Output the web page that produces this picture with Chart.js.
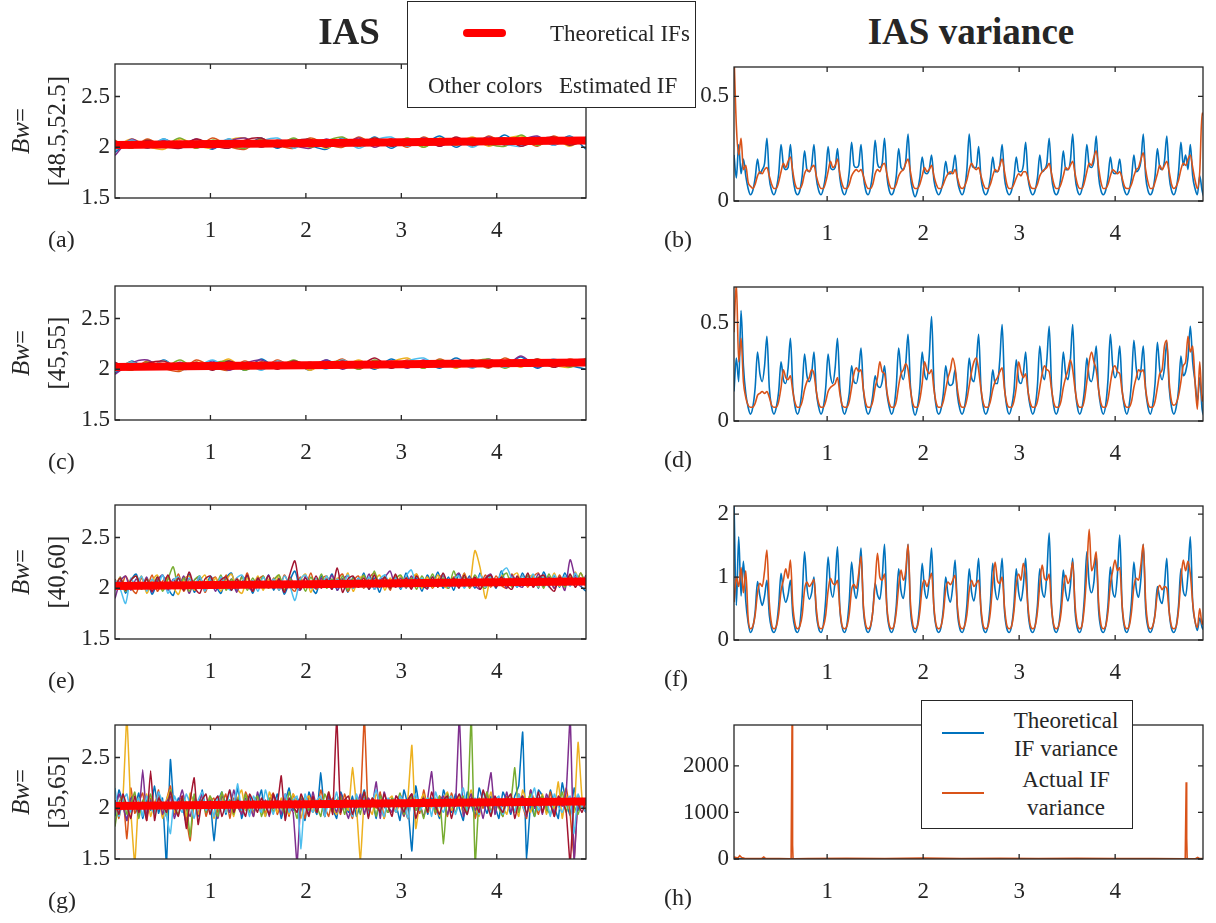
<!DOCTYPE html>
<html>
<head>
<meta charset="utf-8">
<title>IAS / IAS variance</title>
<script src="https://cdn.jsdelivr.net/npm/chart.js@4.4.1/dist/chart.umd.min.js"></script>
<style>
  body { margin: 0; background: #fff; }
  #fig { position: relative; width: 1216px; height: 923px; overflow: hidden;
         font-family: "Liberation Serif", "Times New Roman", serif; color: #262626; }
  #fig canvas { position: absolute; }
  .t { position: absolute; white-space: nowrap; line-height: 1; z-index: 6; }
  .title { font-weight: bold; font-size: 37px; transform: translate(-50%, -50%); }
  .lab { font-size: 23px; transform: translateY(-50%); }
  .tag { font-size: 24px; transform: translateY(-50%); }
  .ylab { font-size: 25px; transform: translate(-50%, -50%) rotate(-90deg); }
  .ctr { font-size: 23px; transform: translate(-50%, -50%); }
  .legend { position: absolute; background: #fff; border: 1px solid #262626; box-sizing: border-box; z-index: 5; }
  .sw { position: absolute; z-index: 6; }
</style>
</head>
<body>
<div id="fig">
  <div class="t title" style="left:349px;top:31px">IAS</div>
  <div class="t title" style="left:971px;top:31px">IAS variance</div>

  <div class="legend" style="left:407px;top:1px;width:289px;height:107px"></div>
  <div class="sw" style="left:463px;top:29px;width:43px;height:8px;border-radius:4px;background:#ff0000"></div>
  <div class="t lab" style="left:550px;top:33px">Theoretical IFs</div>
  <div class="t lab" style="left:428px;top:85px">Other colors</div>
  <div class="t lab" style="left:559px;top:85px">Estimated IF</div>

  <div class="legend" style="left:921px;top:700px;width:212px;height:129px"></div>
  <div class="sw" style="left:942px;top:732px;width:42px;height:2px;background:#0072BD"></div>
  <div class="sw" style="left:942px;top:792px;width:42px;height:2px;background:#D95319"></div>
  <div class="t ctr" style="left:1066px;top:720px">Theoretical</div>
  <div class="t ctr" style="left:1066px;top:748px">IF variance</div>
  <div class="t ctr" style="left:1066px;top:779px">Actual IF</div>
  <div class="t ctr" style="left:1066px;top:807px">variance</div>
</div>

<script>
// ---- data ----
const estColors = ['#0072BD', '#D95319', '#EDB120', '#7E2F8E', '#77AC30', '#4DBEEE', '#A2142F'];
const bandLabels = ['[48.5,52.5]', '[45,55]', '[40,60]', '[35,65]'];
const panelTags = [['(a)', '(b)'], ['(c)', '(d)'], ['(e)', '(f)'], ['(g)', '(h)']];
const xTicks = [1, 2, 3, 4];

// theoretical IF (red)
const redT = [0, 1, 2, 3, 4, 4.935];
const redY = [2.022, 2.031, 2.040, 2.049, 2.058, 2.066];

// estimated IFs, panel (a), 30 samples each
const estA = [
  [1.95,2.07,1.99,2.08,2.00,2.06,1.98,2.08,2.01,2.09,1.99,2.08,2.02,1.98,2.09,2.01,2.10,1.99,2.08,2.03,2.11,2.00,2.09,2.02,2.12,2.01,2.10,2.03,2.11,1.98],
  [2.07,1.99,2.08,2.00,2.06,1.99,2.09,2.01,1.98,2.08,2.02,1.99,2.09,2.03,2.00,2.10,2.02,2.08,2.00,2.10,2.02,2.09,2.01,2.11,2.03,2.08,2.01,2.11,2.03,2.09],
  [1.99,2.08,2.01,1.98,2.08,2.02,1.99,2.07,2.09,2.00,2.07,2.01,2.08,1.99,2.07,2.02,2.09,2.01,2.07,2.00,2.09,2.03,2.10,2.01,2.08,2.11,2.02,2.09,2.01,2.10],
  [1.92,2.08,2.00,2.07,2.01,2.08,1.99,2.06,2.09,2.00,2.07,2.02,1.99,2.08,2.02,2.09,2.00,2.08,2.02,2.09,2.01,2.08,2.03,2.10,2.02,2.07,2.11,2.02,2.09,2.04],
  [2.05,1.99,2.07,2.01,2.09,1.99,2.07,2.02,1.99,2.08,2.01,2.09,2.00,2.06,2.10,2.01,2.07,2.02,2.09,2.00,2.08,2.02,2.09,2.03,2.01,2.12,2.02,2.08,2.03,2.10],
  [1.97,2.07,2.00,2.08,1.99,2.06,2.01,2.08,2.00,2.06,2.09,1.99,2.07,2.01,2.08,1.99,2.07,2.10,2.01,2.07,2.02,2.09,2.00,2.08,2.03,2.01,2.09,2.02,2.10,2.03],
  [2.06,2.00,2.07,2.01,1.99,2.08,2.02,1.99,2.07,2.09,2.00,2.06,2.08,2.00,2.07,2.02,2.09,2.01,2.06,2.08,2.01,2.10,2.02,2.07,2.09,2.01,2.07,2.10,2.02,2.08]
];

// panel (c), 30 samples each
const estC = [
  [1.96,2.08,2.00,2.09,1.99,2.06,2.01,2.08,1.99,2.10,2.01,2.07,1.99,2.09,2.02,2.08,2.00,2.10,2.02,2.07,2.01,2.11,2.02,2.08,2.03,2.12,2.01,2.09,2.04,2.00],
  [2.06,1.99,2.08,2.01,1.98,2.09,2.02,1.99,2.08,2.00,2.09,2.01,2.07,2.02,2.10,2.00,2.08,2.02,2.09,2.01,2.10,2.02,2.08,2.01,2.11,2.03,2.08,2.02,2.10,2.04],
  [2.00,2.07,2.01,2.08,1.99,2.07,2.02,2.10,2.00,2.07,2.01,2.08,1.99,2.07,2.02,2.09,2.01,2.07,2.11,2.02,2.08,2.01,2.09,2.03,2.08,2.02,2.10,2.04,2.02,2.11],
  [1.95,2.06,2.09,2.00,2.07,2.01,2.08,1.99,2.06,2.09,2.01,2.07,2.02,2.09,2.00,2.07,2.02,2.08,2.01,2.09,2.03,2.08,2.02,2.10,2.03,2.13,2.02,2.08,2.03,2.09],
  [2.03,1.99,2.07,2.01,2.09,2.00,2.06,2.08,1.99,2.07,2.02,2.09,2.01,2.06,2.08,2.00,2.09,2.02,2.07,2.01,2.09,2.02,2.07,2.10,2.01,2.08,2.03,2.09,2.02,2.08],
  [1.99,2.07,2.01,2.08,2.00,2.02,2.09,2.01,2.07,1.99,2.08,2.02,2.07,2.00,2.09,2.02,2.07,2.01,2.08,2.11,2.02,2.08,2.01,2.09,2.02,2.08,2.03,2.10,2.04,2.09],
  [2.07,2.00,2.06,2.08,2.01,2.07,1.99,2.08,2.02,2.07,2.00,2.08,2.03,2.01,2.08,2.03,2.11,2.01,2.07,2.02,2.08,2.03,2.09,2.02,2.08,2.04,2.10,2.02,2.08,2.10]
];

// panel (e), 90 samples each
const estE = [
  [1.98,2.11,1.95,2.08,2.14,1.99,2.10,1.94,2.06,2.13, 2.00,1.93,2.10,2.02,2.14,1.96,2.09,1.98,2.12,2.03,
   1.95,2.10,2.15,1.98,2.06,2.12,1.95,2.09,2.00,2.13, 1.98,2.10,1.94,2.07,2.17,1.99,2.11,2.02,1.95,2.12,
   2.03,2.14,1.98,2.09,1.96,2.11,2.01,2.15,1.99,2.10, 1.96,2.13,2.02,2.11,1.99,2.15,2.01,2.10,1.97,2.13,
   2.03,2.16,2.00,2.11,1.98,2.14,2.03,2.12,2.00,2.15, 2.02,2.13,2.00,2.17,2.03,2.12,2.01,2.15,2.03,2.13,
   2.00,2.16,2.04,2.12,2.01,2.15,2.04,2.13,2.02,1.97],
  [2.09,1.99,2.12,2.01,1.95,2.10,2.00,2.13,1.97,2.07, 2.11,2.00,2.14,1.97,2.09,2.01,2.12,1.96,2.07,2.11,
   2.00,2.13,1.98,2.10,2.01,2.15,1.97,2.08,2.12,2.00, 2.10,1.98,2.13,2.02,1.97,2.11,2.01,2.15,1.99,2.09,
   2.12,2.00,2.08,2.14,1.97,2.07,2.12,2.00,2.10,2.15, 2.01,2.10,1.98,2.13,2.03,2.11,2.00,2.14,2.02,2.11,
   2.00,2.09,2.13,2.01,2.11,2.02,2.15,2.00,2.10,2.03, 2.13,2.01,2.12,2.03,2.00,2.14,2.04,2.12,2.01,2.11,
   2.15,2.02,2.11,2.00,2.13,2.03,2.11,2.01,2.15,2.00],
  [2.01,2.11,1.97,2.09,2.00,2.12,1.95,2.07,2.13,1.98, 2.10,2.01,1.94,2.09,2.12,1.98,2.07,2.13,2.00,2.10,
   1.97,2.08,2.14,2.00,1.95,2.10,2.02,2.12,1.98,2.09, 2.01,2.13,1.97,2.11,2.00,2.08,2.14,1.96,2.09,2.01,
   2.12,2.00,2.10,2.02,2.15,1.97,2.09,2.12,2.01,2.07, 2.13,1.98,2.10,2.01,2.12,2.02,2.09,2.14,2.00,2.11,
   2.01,2.13,2.03,2.00,2.11,2.02,2.14,2.03,2.37,2.20, 1.90,2.10,2.02,2.13,2.01,2.11,2.15,2.02,2.10,2.13,
   2.01,2.12,2.03,2.15,2.02,2.11,2.04,2.16,2.03,2.12],
  [1.90,2.07,2.12,1.98,2.09,2.00,2.11,1.96,2.08,2.13, 1.98,2.09,2.01,2.12,1.95,2.08,2.11,2.00,2.09,1.97,
   2.11,2.01,2.09,1.96,2.12,2.02,1.98,2.10,2.01,2.13, 2.00,2.09,1.96,2.11,2.02,1.98,2.12,2.03,2.00,2.10,
   2.01,2.13,1.98,2.09,2.12,2.00,2.10,2.02,2.14,1.99, 2.08,2.11,2.17,2.01,2.10,2.00,2.12,2.02,2.09,1.99,
   2.11,2.02,2.13,2.00,2.09,2.15,2.01,2.11,2.03,1.99, 2.10,2.14,2.02,2.11,2.00,2.13,2.04,2.01,2.12,2.03,
   2.14,2.02,2.11,2.00,2.09,1.98,2.28,2.10,2.02,2.13],
  [2.00,2.10,1.97,2.08,2.12,1.99,2.09,2.01,2.11,1.97, 2.09,2.21,2.00,2.10,1.97,2.08,2.12,2.00,2.09,2.01,
   2.13,1.98,2.09,2.01,2.11,1.98,2.10,2.02,2.12,2.00, 2.08,2.13,1.98,2.10,2.01,2.09,1.97,2.11,2.02,2.14,
   2.00,2.09,2.01,2.12,1.98,2.10,2.03,2.13,2.00,2.17, 2.02,2.11,2.00,2.09,2.13,2.01,2.10,1.99,2.12,2.03,
   2.14,2.01,2.10,2.00,2.17,2.03,2.11,2.01,2.13,2.04, 2.00,2.12,2.02,2.10,2.15,2.01,2.11,2.03,2.13,2.02,
   2.11,2.00,2.14,2.03,2.10,2.01,2.13,2.04,2.15,2.03],
  [2.08,1.99,1.85,2.10,2.00,2.12,1.97,2.09,2.01,2.13, 1.95,2.08,2.11,1.99,2.10,2.01,2.12,1.97,2.09,2.00,
   2.11,2.02,1.98,2.10,2.13,2.00,2.08,1.97,2.11,2.01, 2.09,1.98,2.12,2.03,1.88,2.09,2.13,2.00,2.10,2.01,
   2.12,1.99,2.09,2.02,2.13,2.00,2.10,2.01,2.11,1.99, 2.09,2.13,2.01,2.10,2.00,2.12,2.18,2.02,2.10,2.00,
   2.11,2.03,2.14,2.01,2.09,2.12,2.00,2.10,2.02,2.13, 2.01,2.11,2.03,2.15,2.20,2.09,2.01,2.12,2.03,2.14,
   2.02,2.11,2.01,2.13,2.04,2.12,2.02,2.15,2.03,2.11],
  [2.01,2.10,1.98,2.08,2.12,2.00,2.09,1.97,2.11,2.02, 2.13,2.00,2.10,1.98,2.16,2.01,1.95,2.09,2.12,2.00,
   2.08,2.11,1.98,2.09,2.01,2.13,1.97,2.10,2.02,2.12, 2.00,2.09,1.96,2.13,2.27,1.99,2.10,2.01,2.12,2.00,
   2.09,1.99,2.20,1.96,2.09,2.12,2.01,2.10,1.99,2.13, 2.02,2.11,2.00,2.14,2.01,2.10,1.99,2.12,2.03,2.00,
   2.11,2.01,2.15,2.03,2.10,2.00,2.13,2.02,2.11,1.99, 2.09,2.13,2.01,2.11,2.03,1.99,2.12,2.03,2.15,2.01,
   2.10,2.13,2.02,1.97,2.11,2.03,2.14,2.01,2.10,2.03]
];

// panel (g), 120 samples each
const estG = [
  [1.92,2.18,2.05,1.88,2.12,2.00,2.15,1.90,2.08,1.98,2.22,1.95,2.10,1.45,2.48,1.95,2.10,2.02,1.86,2.14,
   2.05,1.92,2.18,1.98,2.10,1.68,2.06,2.16,1.94,2.08,2.02,2.20,1.90,2.06,2.12,1.96,2.04,2.18,1.92,2.08,
   2.00,2.14,1.90,2.06,2.20,1.98,2.10,2.02,1.88,2.16,2.04,1.94,2.35,1.92,2.12,2.00,1.90,2.16,2.06,1.96,
   2.12,1.92,2.04,2.18,1.98,2.08,1.90,2.14,2.02,1.96,2.10,2.04,1.88,2.18,2.02,1.58,2.22,2.00,2.14,1.94,
   2.10,2.03,1.90,2.18,2.05,1.96,2.14,2.00,1.88,2.16,2.04,1.92,2.20,2.06,1.95,2.12,2.02,1.90,2.16,2.06,
   1.94,2.12,2.22,2.75,1.50,2.04,1.92,2.18,2.12,1.96,2.18,2.02,1.90,2.25,2.05,1.93,2.20,1.98,2.10,1.96],
  [2.08,1.90,2.12,1.70,2.20,1.95,2.06,2.15,1.88,2.10,2.00,2.18,1.92,2.08,2.22,1.94,2.05,2.12,1.90,1.68,
   2.08,2.02,2.15,1.92,2.06,2.10,1.96,2.04,2.14,1.90,2.10,2.02,1.95,2.16,2.06,1.92,2.12,2.00,1.96,2.08,
   2.15,1.94,2.05,2.10,1.92,2.14,2.00,2.06,1.90,2.12,2.04,1.96,2.18,2.02,1.92,2.10,2.04,1.94,2.14,2.02,
   1.90,2.12,2.06,2.90,1.92,2.10,2.00,2.16,1.90,2.08,2.04,1.96,2.14,2.02,1.90,2.12,2.06,1.95,2.18,2.00,
   2.08,1.94,2.12,2.04,1.92,2.15,2.02,2.10,1.96,2.06,2.14,1.90,2.08,2.00,2.16,1.94,2.10,2.05,1.92,2.12,
   2.04,1.96,2.14,2.02,1.90,2.18,2.06,1.94,2.12,2.00,2.16,1.92,2.08,2.04,2.20,1.94,1.50,2.12,2.05,1.98],
  [2.05,1.95,2.10,2.90,1.98,1.45,2.10,2.00,2.14,1.92,2.06,2.12,1.90,2.08,2.18,1.96,2.04,2.10,1.92,2.15,
   2.02,1.94,2.08,2.00,2.12,1.90,2.06,2.14,1.96,2.04,1.92,2.10,2.18,1.98,2.06,1.94,2.12,2.02,1.92,2.16,
   2.04,1.96,2.10,2.02,1.94,2.14,2.06,1.90,2.08,2.12,1.96,2.04,2.10,1.92,2.16,2.00,1.94,2.12,2.04,1.98,
   2.40,2.02,1.48,2.10,2.02,1.94,2.14,2.06,1.90,2.08,2.12,1.96,2.04,1.92,2.10,2.62,1.80,2.06,2.14,1.96,
   2.02,2.10,1.92,2.08,2.16,1.98,2.04,2.12,1.94,2.06,2.18,2.00,1.92,2.10,2.04,2.16,1.96,2.08,2.02,1.94,
   2.12,2.04,1.92,2.18,2.06,1.96,2.10,2.02,2.14,1.94,2.08,2.00,2.26,1.90,2.12,2.04,1.96,2.65,2.10,1.98],
  [1.95,2.14,2.02,1.88,2.10,2.04,1.92,2.38,1.92,2.08,2.00,2.16,1.94,2.06,2.12,1.90,2.04,2.18,2.00,1.92,
   2.10,2.04,2.14,1.96,2.08,2.02,1.90,2.12,2.06,1.96,2.18,2.02,1.94,2.10,2.04,1.92,2.16,2.00,2.08,1.92,
   2.12,2.06,1.94,2.14,2.02,1.96,1.45,2.10,2.04,1.94,2.16,2.00,2.08,1.92,2.12,2.06,1.96,2.14,2.02,1.90,
   2.08,2.00,2.14,1.94,2.10,2.04,2.26,1.90,2.16,2.02,1.96,2.12,2.06,1.92,2.08,2.14,1.98,2.04,1.92,2.10,
   2.36,1.96,2.08,2.12,1.94,2.06,2.02,2.90,1.92,2.04,2.14,1.98,2.06,1.90,2.12,2.35,1.94,2.10,2.02,2.16,
   1.96,2.08,2.04,2.12,1.92,2.18,2.00,2.10,1.94,2.14,2.04,1.96,2.08,2.02,2.16,2.90,1.48,2.10,2.02,1.96],
  [1.82,2.06,2.12,1.94,2.04,2.16,1.90,2.08,2.02,2.14,1.96,2.10,2.04,1.92,2.18,2.02,1.94,2.10,2.06,1.72,
   2.14,2.00,2.08,1.96,2.12,2.04,1.92,2.16,2.02,2.08,1.94,2.10,2.00,2.14,1.96,2.06,2.12,1.92,2.04,2.10,
   1.96,2.08,2.02,1.94,2.16,2.04,1.90,2.12,2.06,1.98,2.10,2.02,1.92,2.14,2.04,1.96,2.08,2.12,1.94,2.06,
   2.02,2.10,1.94,2.16,2.00,2.08,1.92,2.12,2.04,1.96,2.10,2.02,2.15,1.94,2.06,2.12,1.98,2.04,1.90,2.10,
   2.06,1.96,2.12,1.65,2.14,2.04,1.96,2.08,2.12,1.94,2.90,1.45,2.10,2.02,2.16,1.94,2.08,2.00,1.92,2.10,
   2.06,2.40,1.96,2.10,2.04,2.14,1.92,2.06,2.12,2.00,1.94,2.08,2.04,2.16,1.96,2.10,2.02,1.94,2.08,2.04],
  [2.20,1.92,2.08,2.14,1.96,2.04,2.10,1.92,2.12,2.02,1.94,2.16,2.06,1.92,1.75,2.12,2.02,1.96,2.14,2.04,
   1.90,2.08,2.16,1.98,2.06,1.92,2.12,2.02,1.96,2.18,2.04,2.24,1.98,2.06,1.92,2.12,2.02,1.96,2.18,2.04,
   1.94,2.10,2.02,2.14,1.96,2.08,2.12,1.60,2.14,2.02,1.96,2.08,2.12,1.92,2.06,2.02,2.16,1.96,2.08,2.04,
   1.92,2.14,2.00,2.10,1.94,2.06,2.18,2.02,1.92,2.10,2.04,1.96,2.12,2.06,1.90,2.08,2.14,1.98,2.04,2.10,
   1.92,2.16,2.02,1.96,2.08,2.12,1.94,2.06,2.20,1.98,2.04,2.10,1.94,2.16,2.02,1.96,2.08,2.12,1.94,2.06,
   2.10,1.96,2.14,2.02,1.94,2.08,2.20,1.98,2.04,2.10,1.92,2.14,2.02,1.96,2.08,2.12,1.75,2.14,2.02,1.96],
  [2.08,1.94,2.14,2.02,1.90,2.12,1.96,2.06,1.88,2.37,1.88,2.10,2.04,1.96,2.16,2.02,1.92,2.12,1.80,2.08,
   2.30,1.84,2.08,2.14,1.94,2.06,2.12,1.92,2.04,2.18,1.96,2.08,2.02,1.92,2.14,2.06,1.96,2.10,2.02,1.94,
   2.14,2.04,2.32,1.88,2.10,2.02,1.96,2.14,2.04,1.92,2.12,1.96,2.08,2.02,2.16,1.94,2.90,1.96,2.08,2.12,
   1.94,2.06,2.02,2.16,1.90,2.10,2.04,1.96,2.14,2.02,1.92,2.12,2.06,1.96,2.08,2.14,1.90,2.04,2.10,1.96,
   2.16,2.02,1.94,2.08,2.12,1.90,2.06,2.14,2.02,1.94,2.10,2.06,1.96,2.18,2.04,1.92,2.12,2.02,1.96,2.08,
   2.14,1.90,2.06,2.12,1.94,2.08,2.02,2.16,1.96,2.10,2.04,1.92,2.12,2.06,1.96,1.45,2.10,2.04,1.96,2.08]
];

// IAS variance, 201 samples from t = 0.03, step 0.0245
const varB_theo = [
  0.22,0.11,0.27,0.13,0.20,0.12,0.06,
  0.03,0.05,0.11,0.20,0.13,0.15,0.18,0.30,0.11,0.05,
  0.03,0.06,0.13,0.27,0.17,0.15,0.16,0.27,0.12,0.05,
  0.03,0.05,0.12,0.24,0.15,0.14,0.17,0.27,0.11,0.05,
  0.03,0.06,0.13,0.26,0.16,0.15,0.16,0.25,0.11,0.05,
  0.03,0.06,0.14,0.28,0.17,0.16,0.17,0.27,0.12,0.05,
  0.03,0.06,0.14,0.29,0.18,0.16,0.18,0.30,0.12,0.05,
  0.03,0.05,0.12,0.25,0.16,0.15,0.19,0.32,0.12,0.05,
  0.02,0.05,0.11,0.21,0.14,0.13,0.15,0.22,0.10,0.05,
  0.03,0.05,0.10,0.19,0.13,0.13,0.15,0.22,0.10,0.05,
  0.03,0.06,0.15,0.32,0.18,0.16,0.16,0.26,0.11,0.05,
  0.03,0.05,0.11,0.21,0.14,0.14,0.17,0.27,0.11,0.05,
  0.03,0.05,0.11,0.21,0.14,0.14,0.17,0.28,0.11,0.05,
  0.03,0.05,0.11,0.22,0.14,0.15,0.18,0.30,0.12,0.05,
  0.03,0.05,0.12,0.24,0.15,0.15,0.19,0.32,0.12,0.05,
  0.03,0.06,0.13,0.27,0.17,0.16,0.19,0.31,0.12,0.05,
  0.03,0.05,0.11,0.21,0.14,0.13,0.14,0.20,0.10,0.05,
  0.03,0.05,0.11,0.22,0.14,0.15,0.19,0.32,0.12,0.05,
  0.03,0.05,0.12,0.25,0.16,0.15,0.19,0.31,0.12,0.05,
  0.03,0.06,0.14,0.28,0.17,0.22,0.15,0.27,0.12,0.06,
  0.03,0.12,0.05,0.01
];
const varB_act = [
  0.70,0.36,0.22,0.30,0.15,0.17,0.09,
  0.07,0.06,0.08,0.12,0.14,0.13,0.15,0.16,0.12,0.08,
  0.06,0.06,0.09,0.14,0.18,0.16,0.19,0.21,0.14,0.08,
  0.06,0.06,0.08,0.13,0.15,0.14,0.16,0.17,0.12,0.08,
  0.06,0.06,0.09,0.14,0.19,0.16,0.17,0.20,0.13,0.08,
  0.06,0.06,0.08,0.12,0.14,0.15,0.14,0.15,0.12,0.08,
  0.06,0.06,0.08,0.13,0.15,0.14,0.17,0.18,0.13,0.08,
  0.06,0.06,0.08,0.12,0.14,0.15,0.18,0.20,0.14,0.08,
  0.06,0.06,0.08,0.12,0.16,0.14,0.15,0.17,0.12,0.08,
  0.06,0.06,0.08,0.11,0.13,0.14,0.13,0.15,0.11,0.07,
  0.06,0.07,0.10,0.15,0.18,0.16,0.15,0.16,0.12,0.08,
  0.06,0.06,0.08,0.12,0.15,0.14,0.17,0.20,0.14,0.08,
  0.06,0.06,0.08,0.11,0.13,0.12,0.14,0.14,0.11,0.07,
  0.06,0.06,0.08,0.12,0.14,0.15,0.16,0.18,0.13,0.08,
  0.06,0.06,0.08,0.12,0.16,0.15,0.17,0.19,0.13,0.08,
  0.06,0.06,0.09,0.14,0.18,0.17,0.21,0.24,0.16,0.09,
  0.06,0.06,0.08,0.12,0.15,0.14,0.13,0.14,0.11,0.07,
  0.06,0.06,0.08,0.12,0.15,0.16,0.20,0.23,0.15,0.09,
  0.06,0.06,0.09,0.13,0.17,0.15,0.17,0.19,0.14,0.08,
  0.06,0.07,0.10,0.15,0.18,0.17,0.20,0.22,0.16,0.10,
  0.06,0.14,0.42,0.40
];
const varD_theo = [
  0.15,0.32,0.20,0.56,0.28,0.14,0.07,
  0.035,0.07,0.17,0.35,0.24,0.20,0.28,0.43,0.17,0.07,
  0.035,0.07,0.15,0.30,0.21,0.19,0.27,0.42,0.17,0.07,
  0.035,0.07,0.17,0.34,0.23,0.20,0.24,0.35,0.15,0.07,
  0.035,0.07,0.17,0.34,0.23,0.19,0.27,0.42,0.17,0.07,
  0.035,0.07,0.14,0.28,0.20,0.19,0.25,0.37,0.16,0.07,
  0.035,0.06,0.13,0.23,0.18,0.17,0.20,0.28,0.14,0.07,
  0.035,0.07,0.18,0.37,0.25,0.21,0.29,0.44,0.18,0.07,
  0.03,0.07,0.17,0.35,0.24,0.21,0.33,0.53,0.19,0.07,
  0.035,0.06,0.14,0.28,0.20,0.18,0.19,0.26,0.13,0.06,
  0.035,0.07,0.16,0.32,0.22,0.20,0.29,0.44,0.17,0.07,
  0.035,0.06,0.13,0.26,0.19,0.19,0.31,0.49,0.18,0.07,
  0.035,0.07,0.15,0.31,0.21,0.19,0.24,0.35,0.15,0.07,
  0.035,0.07,0.18,0.38,0.25,0.21,0.31,0.48,0.18,0.07,
  0.035,0.07,0.17,0.35,0.24,0.21,0.31,0.49,0.18,0.07,
  0.035,0.07,0.16,0.32,0.22,0.20,0.26,0.38,0.16,0.07,
  0.035,0.08,0.21,0.44,0.28,0.22,0.26,0.38,0.16,0.07,
  0.035,0.08,0.20,0.41,0.27,0.21,0.26,0.38,0.16,0.07,
  0.035,0.08,0.19,0.40,0.26,0.21,0.27,0.40,0.17,0.07,
  0.035,0.07,0.16,0.33,0.23,0.25,0.32,0.48,0.30,0.20,
  0.10,0.22,0.06,0.02
];
const varD_act = [
  0.45,0.70,0.30,0.42,0.20,0.12,0.08,
  0.07,0.07,0.09,0.13,0.14,0.15,0.14,0.15,0.12,0.08,
  0.07,0.07,0.10,0.17,0.26,0.22,0.21,0.23,0.15,0.09,
  0.07,0.07,0.10,0.16,0.20,0.22,0.26,0.24,0.15,0.09,
  0.07,0.07,0.10,0.15,0.17,0.18,0.19,0.22,0.14,0.08,
  0.07,0.07,0.10,0.17,0.24,0.27,0.25,0.26,0.16,0.09,
  0.07,0.07,0.10,0.17,0.22,0.30,0.25,0.24,0.15,0.09,
  0.07,0.07,0.10,0.18,0.24,0.26,0.29,0.26,0.16,0.09,
  0.07,0.07,0.11,0.19,0.30,0.26,0.24,0.26,0.16,0.09,
  0.07,0.07,0.10,0.16,0.22,0.26,0.32,0.27,0.16,0.09,
  0.07,0.07,0.11,0.18,0.25,0.30,0.32,0.26,0.16,0.09,
  0.07,0.07,0.10,0.16,0.20,0.22,0.25,0.27,0.16,0.09,
  0.07,0.07,0.10,0.17,0.30,0.25,0.22,0.24,0.15,0.09,
  0.07,0.07,0.10,0.17,0.24,0.28,0.26,0.25,0.16,0.09,
  0.07,0.07,0.10,0.17,0.22,0.26,0.31,0.26,0.16,0.09,
  0.07,0.07,0.11,0.20,0.30,0.35,0.30,0.26,0.16,0.09,
  0.07,0.07,0.11,0.19,0.26,0.28,0.25,0.24,0.15,0.09,
  0.07,0.07,0.10,0.17,0.22,0.26,0.25,0.26,0.16,0.09,
  0.07,0.07,0.10,0.17,0.24,0.26,0.38,0.41,0.20,0.10,
  0.08,0.09,0.13,0.20,0.28,0.30,0.43,0.35,0.38,0.20,
  0.06,0.30,0.10,0.16
];
const varF_theo = [
  2.20,0.55,1.64,0.70,1.25,0.62,0.28,
  0.12,0.20,0.45,0.93,0.70,0.55,0.70,0.95,0.40,0.18,
  0.12,0.22,0.55,1.06,0.75,0.60,0.72,0.95,0.40,0.18,
  0.12,0.25,0.70,1.40,0.85,0.65,0.75,1.00,0.42,0.18,
  0.12,0.25,0.65,1.32,0.85,0.68,0.95,1.48,0.50,0.20,
  0.12,0.24,0.62,1.24,0.82,0.66,0.95,1.46,0.50,0.20,
  0.12,0.20,0.45,0.90,0.72,0.65,0.98,1.52,0.50,0.20,
  0.12,0.22,0.55,1.13,0.78,0.66,0.98,1.52,0.50,0.20,
  0.12,0.24,0.60,1.22,0.80,0.66,0.95,1.46,0.50,0.20,
  0.12,0.20,0.50,1.00,0.72,0.60,0.85,1.27,0.45,0.18,
  0.12,0.22,0.55,1.13,0.76,0.62,0.86,1.30,0.46,0.18,
  0.12,0.24,0.60,1.22,0.80,0.64,0.86,1.30,0.46,0.18,
  0.12,0.22,0.55,1.13,0.76,0.62,0.86,1.30,0.46,0.18,
  0.12,0.22,0.55,1.13,0.78,0.68,1.05,1.70,0.55,0.20,
  0.12,0.22,0.55,1.11,0.76,0.62,0.86,1.30,0.46,0.18,
  0.12,0.25,0.70,1.40,0.90,0.75,0.92,1.35,0.48,0.18,
  0.12,0.22,0.56,1.16,0.78,0.68,1.04,1.67,0.55,0.20,
  0.12,0.24,0.62,1.24,0.82,0.68,0.98,1.52,0.50,0.20,
  0.12,0.20,0.42,0.85,0.66,0.58,0.86,1.30,0.46,0.18,
  0.12,0.22,0.55,1.13,0.78,0.70,1.05,1.64,0.60,0.30,
  0.15,0.35,0.20,0.15
];
const varF_act = [
  0.60,1.00,0.85,1.15,0.75,1.10,0.35,
  0.18,0.22,0.40,0.75,0.90,0.85,1.10,1.43,0.60,0.25,
  0.18,0.22,0.42,0.78,0.95,1.13,0.98,1.27,0.55,0.25,
  0.18,0.22,0.40,0.80,0.92,0.85,0.90,0.96,0.50,0.22,
  0.18,0.22,0.40,0.78,0.98,0.90,0.88,0.95,0.50,0.22,
  0.18,0.22,0.42,0.80,0.88,0.82,1.05,1.33,0.55,0.24,
  0.18,0.22,0.45,0.90,1.38,1.00,0.95,1.05,0.52,0.24,
  0.18,0.22,0.45,0.85,1.11,0.95,1.10,1.52,0.60,0.25,
  0.18,0.22,0.45,0.85,0.95,0.85,0.95,1.06,0.52,0.23,
  0.18,0.22,0.42,0.80,0.92,0.88,0.95,1.03,0.52,0.23,
  0.18,0.22,0.40,0.78,0.95,0.85,0.90,0.95,0.50,0.22,
  0.18,0.22,0.45,0.90,1.24,0.95,0.90,1.00,0.52,0.23,
  0.18,0.22,0.45,0.88,1.05,0.95,1.22,1.00,0.52,0.23,
  0.18,0.22,0.45,0.88,1.19,0.98,0.95,1.05,0.52,0.23,
  0.18,0.22,0.42,0.82,1.03,0.90,1.00,1.24,0.55,0.24,
  0.18,0.24,0.55,1.10,1.76,1.10,1.20,1.40,0.60,0.25,
  0.18,0.22,0.45,0.88,1.10,1.27,1.10,1.15,0.55,0.24,
  0.18,0.22,0.45,0.85,0.98,0.95,1.20,1.52,0.62,0.25,
  0.18,0.22,0.40,0.75,0.87,0.80,0.85,0.82,0.45,0.22,
  0.18,0.22,0.48,0.95,1.27,1.10,1.25,1.05,0.60,0.30,
  0.20,0.50,0.25,0.40
];

// panel (h): sparse samples (time, value)
const varH_t   = [0.03,0.07,0.09,0.11,0.14,0.2,0.32,0.34,0.36,0.5,0.625,0.635,0.64,0.645,0.66,0.8,1.2,1.6,2.0,2.4,2.8,3.2,3.6,4.0,4.4,4.73,4.74,4.745,4.75,4.76,4.84,4.86,4.88,4.915];
const varH_act = [40,20,70,30,15,10,15,45,10,8,5,3000,300,10,5,12,15,10,18,12,15,10,14,12,10,5,1650,450,8,5,10,35,8,10];
const varH_theoT = [0.03,1,2,3,4,4.915];
const varH_theo  = [4,2,2,2,2,3];

// ---- drawing ----
const INK = '#262626';
const FONT = "'Liberation Serif', 'Times New Roman', serif";
const PADL = 110, PADR = 12, PADT = 10, PADB = 50;
const fig = document.getElementById('fig');

const grid = (n, t0, dt) => Array.from({ length: n }, (_, i) => +(t0 + i * dt).toFixed(4));
const pts = (xs, ys) => ys.map((y, i) => ({ x: xs[i], y }));

const tVar = grid(201, 0.03, 0.0245);

// MATLAB style box with inward ticks on all sides
const boxPlugin = {
  id: 'matlabBox',
  afterDraw(chart) {
    const { ctx, chartArea: a, scales: { x, y } } = chart;
    ctx.save();
    ctx.strokeStyle = INK;
    ctx.lineWidth = 1.3;
    ctx.strokeRect(a.left, a.top, a.right - a.left, a.bottom - a.top);
    ctx.beginPath();
    x.ticks.forEach(t => {
      const px = x.getPixelForValue(t.value);
      ctx.moveTo(px, a.bottom); ctx.lineTo(px, a.bottom - 5);
      ctx.moveTo(px, a.top); ctx.lineTo(px, a.top + 5);
    });
    y.ticks.forEach(t => {
      const py = y.getPixelForValue(t.value);
      ctx.moveTo(a.left, py); ctx.lineTo(a.left + 5, py);
      ctx.moveTo(a.right, py); ctx.lineTo(a.right - 5, py);
    });
    ctx.stroke();
    ctx.restore();
  }
};

function addPanel(box, xr, yr, yTicks, datasets) {
  const cv = document.createElement('canvas');
  cv.width = box.w + PADL + PADR;
  cv.height = box.h + PADT + PADB;
  cv.style.left = (box.x - PADL) + 'px';
  cv.style.top = (box.y - PADT) + 'px';
  fig.appendChild(cv);
  const tickFont = { family: FONT, size: 23 };
  return new Chart(cv, {
    type: 'line',
    data: { datasets },
    options: {
      responsive: false,
      animation: false,
      events: [],
      parsing: false,
      layout: { padding: { left: 0, right: PADR, top: PADT, bottom: 0 } },
      plugins: { legend: { display: false }, tooltip: { enabled: false } },
      elements: { point: { radius: 0 } },
      scales: {
        x: {
          type: 'linear', min: xr[0], max: xr[1],
          grid: { display: false, drawTicks: false }, border: { display: false },
          afterBuildTicks: s => { s.ticks = xTicks.map(v => ({ value: v })); },
          afterFit: s => { s.height = PADB; s.paddingLeft = 0; s.paddingRight = 0; },
          ticks: { font: tickFont, color: INK, padding: 19, autoSkip: false, maxRotation: 0, callback: v => String(v) }
        },
        y: {
          type: 'linear', min: yr[0], max: yr[1],
          grid: { display: false, drawTicks: false }, border: { display: false },
          afterBuildTicks: s => { s.ticks = yTicks.map(v => ({ value: v })); },
          afterFit: s => { s.width = PADL; s.paddingTop = 0; s.paddingBottom = 0; },
          ticks: { font: tickFont, color: INK, padding: 5, autoSkip: false, callback: v => String(v) }
        }
      }
    },
    plugins: [boxPlugin]
  });
}

const leftBoxes  = [64, 286, 505, 725].map(y => ({ x: 115, y, w: 471, h: 134 }));
const rightBoxes = [67, 287, 506, 725].map(y => ({ x: 734, y, w: 469, h: 134 }));

// IAS column
const estSets = [estA, estC, estE, estG];
const estTension = [0.3, 0.3, 0.25, 0.12];
estSets.forEach((set, r) => {
  const tEst = grid(set[0].length, 0, 4.935 / (set[0].length - 1));
  const ds = [{
    data: pts(redT, redY), borderColor: '#ff0000', borderWidth: 8,
    borderCapStyle: 'round', tension: 0
  }];
  for (let k = set.length - 1; k >= 0; k--) {
    ds.push({ data: pts(tEst, set[k]), borderColor: estColors[k], borderWidth: 1.5, tension: estTension[r] });
  }
  addPanel(leftBoxes[r], [0, 4.935], [1.5, 2.82], [1.5, 2, 2.5], ds);
});

// IAS variance column
const varSets = [
  { act: varB_act, theo: varB_theo, yr: [0, 0.64], ticks: [0, 0.5] },
  { act: varD_act, theo: varD_theo, yr: [0, 0.68], ticks: [0, 0.5] },
  { act: varF_act, theo: varF_theo, yr: [0, 2.13], ticks: [0, 1, 2] }
];
varSets.forEach((v, r) => {
  addPanel(rightBoxes[r], [0.03, 4.915], v.yr, v.ticks, [
    { data: pts(tVar, v.act), borderColor: '#D95319', borderWidth: 1.6, cubicInterpolationMode: 'monotone' },
    { data: pts(tVar, v.theo), borderColor: '#0072BD', borderWidth: 1.6, cubicInterpolationMode: 'monotone' }
  ]);
});
addPanel(rightBoxes[3], [0.03, 4.915], [0, 2880], [0, 1000, 2000], [
  { data: pts(varH_t, varH_act), borderColor: '#D95319', borderWidth: 1.6, tension: 0 },
  { data: pts(varH_theoT, varH_theo), borderColor: '#0072BD', borderWidth: 1.6, tension: 0 }
]);

// text: y labels and panel tags
leftBoxes.forEach((b, r) => {
  const cy = b.y + b.h / 2;
  const bw = document.createElement('div');
  bw.className = 't ylab';
  bw.style.left = '20px'; bw.style.top = cy + 'px';
  bw.innerHTML = '<i>Bw</i>=';
  fig.appendChild(bw);
  const band = document.createElement('div');
  band.className = 't ylab';
  band.style.left = '56px'; band.style.top = cy + 'px';
  band.textContent = bandLabels[r];
  fig.appendChild(band);

  const tagL = document.createElement('div');
  tagL.className = 't tag';
  tagL.style.left = '48px'; tagL.style.top = (b.y + b.h + 41) + 'px';
  tagL.textContent = panelTags[r][0];
  fig.appendChild(tagL);

  const tagR = document.createElement('div');
  tagR.className = 't tag';
  tagR.style.left = '664px'; tagR.style.top = (rightBoxes[r].y + rightBoxes[r].h + 38) + 'px';
  tagR.textContent = panelTags[r][1];
  fig.appendChild(tagR);
});
</script>
</body>
</html>
